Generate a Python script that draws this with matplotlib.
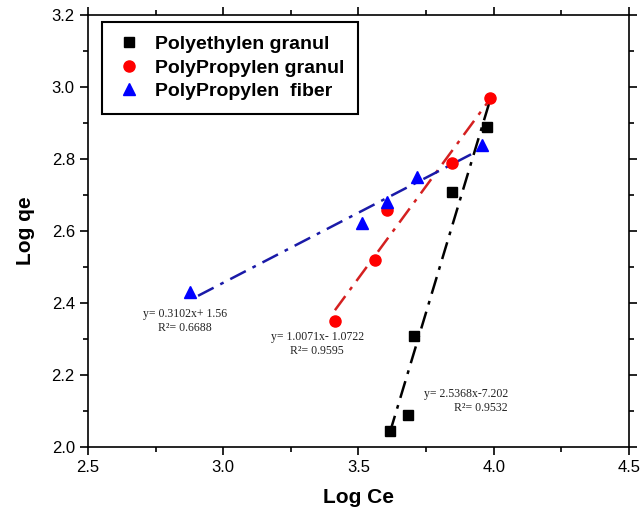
import matplotlib
matplotlib.use("Agg")
import matplotlib.pyplot as plt
from matplotlib.ticker import MultipleLocator

# data
pe_x = [3.616, 3.684, 3.707, 3.847, 3.974]
pe_y = [2.045, 2.089, 2.308, 2.709, 2.888]
ppg_x = [3.413, 3.561, 3.604, 3.844, 3.986]
ppg_y = [2.351, 2.519, 2.658, 2.790, 2.969]
ppf_x = [2.877, 3.512, 3.604, 3.717, 3.955]
ppf_y = [2.431, 2.621, 2.681, 2.751, 2.839]

# fitted lines, end points as drawn
pe_fit_x = [3.616, 3.985]
pe_fit_y = [2.040, 2.960]
ppg_fit_x = [3.413, 3.984]
ppg_fit_y = [2.380, 2.964]
ppf_fit_x = [2.907, 3.96]
ppf_fit_y = [2.420, 2.830]

labels = ["Polyethylen granul", "PolyPropylen granul", "PolyPropylen  fiber"]
pe_eq = "y= 2.5368x-7.202\nR²= 0.9532"
ppg_eq = "y= 1.0071x- 1.0722\nR²= 0.9595"
ppf_eq = "y= 0.3102x+ 1.56\nR²= 0.6688"

plt.rcParams["font.family"] = ["Liberation Sans", "DejaVu Sans"]

fig = plt.figure(figsize=(6.44, 5.17), dpi=100)
ax = fig.add_axes([0.1366, 0.1354, 0.8401, 0.8356])

dash = (0, (7, 3, 1.5, 3))
ax.plot(pe_fit_x, pe_fit_y, color="black", lw=1.8, linestyle=dash)
ax.plot(ppg_fit_x, ppg_fit_y, color="#d42020", lw=1.8, linestyle=dash)
ax.plot(ppf_fit_x, ppf_fit_y, color="#1a1aa8", lw=1.8, linestyle=dash)

ax.plot(pe_x, pe_y, "s", color="black", ms=7, label=labels[0])
ax.plot(ppg_x, ppg_y, "o", color="#ff0000", ms=8, label=labels[1])
ax.plot(ppf_x, ppf_y, "^", color="#0000ff", ms=8.5, label=labels[2])

serif = ["Liberation Serif", "DejaVu Serif"]
ax.text(2.859, 2.349, ppf_eq, family=serif, fontsize=8.5, color="#222222",
        ha="center", va="center", multialignment="center", linespacing=1.25)
ax.text(3.348, 2.286, ppg_eq, family=serif, fontsize=8.5, color="#222222",
        ha="center", va="center", multialignment="center", linespacing=1.25)
ax.text(3.897, 2.128, pe_eq, family=serif, fontsize=8.5, color="#222222",
        ha="center", va="center", multialignment="right", linespacing=1.25)

ax.set_xlim(2.5, 4.5)
ax.set_ylim(2.0, 3.2)
ax.xaxis.set_major_locator(MultipleLocator(0.5))
ax.xaxis.set_minor_locator(MultipleLocator(0.25))
ax.yaxis.set_major_locator(MultipleLocator(0.2))
ax.yaxis.set_minor_locator(MultipleLocator(0.1))
ax.tick_params(which="both", direction="out", top=True, right=True,
               labeltop=False, labelright=False, width=1.2)
ax.tick_params(which="major", length=6, labelsize=12)
ax.tick_params(which="minor", length=3.5)
for s in ax.spines.values():
    s.set_linewidth(1.2)

ax.set_xlabel("Log Ce", fontsize=15, fontweight="bold", labelpad=9)
ax.set_ylabel("Log qe", fontsize=15, fontweight="bold", labelpad=12)

leg = ax.legend(loc="upper left", bbox_to_anchor=(0.026, 0.984), frameon=True,
                fancybox=False, edgecolor="black", framealpha=1,
                borderaxespad=0, prop={"weight": "bold", "size": 14},
                handletextpad=0.6, labelspacing=0.3, borderpad=0.7,
                handlelength=1.4)
leg.get_frame().set_linewidth(1.5)

fig.savefig("out.png", dpi=100)
